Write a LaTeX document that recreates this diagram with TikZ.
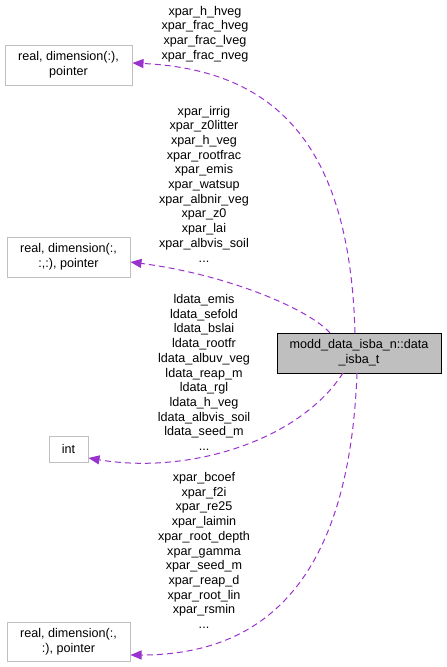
\documentclass[tikz,border=0pt]{standalone}
\usepackage{fontspec}
\setmainfont{Liberation Sans}
\usetikzlibrary{arrows.meta}
\definecolor{edgecol}{HTML}{9A32CD}
\definecolor{boxgray}{HTML}{BFBFBF}
\begin{document}
\begin{tikzpicture}[x=1pt,y=1pt,
  every node/.style={font=\fontsize{12.6}{14.7}\selectfont, inner sep=0pt, align=center},
  typebox/.style={draw=boxgray, line width=1pt, fill=white},
  mainbox/.style={draw=black, line width=1pt, fill=boxgray},
  edge/.style={draw=edgecol, line width=1pt, dash pattern=on 6pt off 4pt,
    -{Triangle[length=11pt,width=9pt,fill=edgecol]}},
  lbl/.style={}]
\useasboundingbox (0,0) rectangle (447,-667);
\node[typebox, minimum width=127pt, minimum height=40pt] (b1) at (68.5,-65) {real, dimension(:),\\pointer};
\node[typebox, minimum width=123pt, minimum height=40pt] (b2) at (68.5,-257) {real, dimension(:,\\:,:), pointer};
\node[typebox, minimum width=39pt, minimum height=26pt] (bi) at (68.5,-449) {int};
\node[typebox, minimum width=123pt, minimum height=39pt] (b4) at (68.5,-641.5) {real, dimension(:,\\:), pointer};
\node[mainbox, minimum width=164pt, minimum height=40pt] (m) at (359,-353) {modd\_data\_isba\_n::data\\\_isba\_t};

\coordinate (s1) at (355,-333);
\coordinate (s2) at (330,-333);
\coordinate (s3) at (343,-373);
\coordinate (s4) at (357,-373);

\draw[edge] (s1) .. controls (350,-150) and (280,-70) .. (b1.east |- 0,-63);
\draw[edge] (s2) .. controls (310,-310) and (230,-275) .. (b2.east |- 0,-262);
\draw[edge] (s3) .. controls (300,-440) and (190,-475) .. (bi.east |- 0,-458);
\draw[edge] (s4) .. controls (350,-560) and (280,-655) .. (b4.east |- 0,-655);

\node[lbl] (l1) at (205,-34) {xpar\_h\_hveg\\xpar\_frac\_hveg\\xpar\_frac\_lveg\\xpar\_frac\_nveg};
\node[lbl] (l2) at (204,-184) {xpar\_irrig\\xpar\_z0litter\\xpar\_h\_veg\\xpar\_rootfrac\\xpar\_emis\\xpar\_watsup\\xpar\_albnir\_veg\\xpar\_z0\\xpar\_lai\\xpar\_albvis\_soil\\...};
\node[lbl] (l3) at (204,-372.5) {ldata\_emis\\ldata\_sefold\\ldata\_bslai\\ldata\_rootfr\\ldata\_albuv\_veg\\ldata\_reap\_m\\ldata\_rgl\\ldata\_h\_veg\\ldata\_albvis\_soil\\ldata\_seed\_m\\...};
\node[lbl] (l4) at (204,-550.5) {xpar\_bcoef\\xpar\_f2i\\xpar\_re25\\xpar\_laimin\\xpar\_root\_depth\\xpar\_gamma\\xpar\_seed\_m\\xpar\_reap\_d\\xpar\_root\_lin\\xpar\_rsmin\\...};
\end{tikzpicture}
\end{document}
